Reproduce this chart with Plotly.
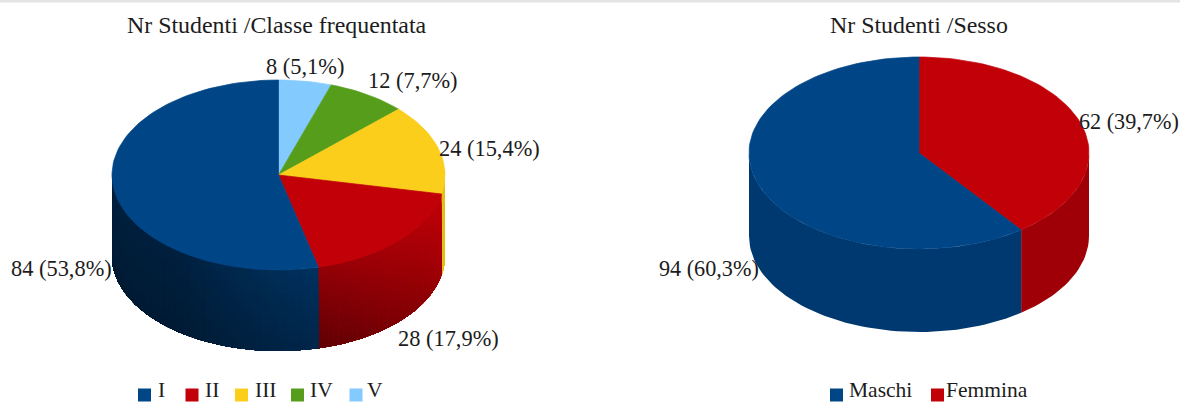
import math
import plotly.graph_objects as go

# Student counts by class attended and by sex
class_names = ["V", "IV", "III", "II", "I"]
class_counts = [8, 12, 24, 28, 84]
class_labels = ["8 (5,1%)", "12 (7,7%)", "24 (15,4%)", "28 (17,9%)", "84 (53,8%)"]
sex_names = ["Femmina", "Maschi"]
sex_counts = [62, 94]
sex_labels = ["62 (39,7%)", "94 (60,3%)"]

BLUE, RED, YELLOW, GREEN, SKY = "#004586", "#c20008", "#fbce1c", "#579d1c", "#83caff"
SERIF = "Liberation Serif"
INK = "#1c1c1c"


def shade(hex_colour, factor):
    r, g, b = (int(hex_colour[i:i + 2], 16) for i in (1, 3, 5))
    return f"rgb({r * factor:.0f},{g * factor:.0f},{b * factor:.0f})"


def polygon(fig, xs, ys, colour, outline=0.7):
    fig.add_trace(go.Scatter(
        x=xs, y=ys, mode="lines", fill="toself", fillcolor=colour,
        line=dict(color=colour, width=outline), hoverinfo="skip", showlegend=False,
    ))


def draw_pie(fig, counts, colours, cx, cy, a, b, depth, side_shade, strips_per_slice, levels):
    total = sum(counts)

    def rim(t):
        r = math.radians(t)
        return cx + a * math.sin(r), cy - b * math.cos(r)

    start = 0.0
    spans = []
    for n in counts:
        end = start + 360.0 * n / total
        spans.append((start, end))
        start = end

    # Wall of the cylinder, only the front half is visible.  Every band also
    # covers everything after it, and the next bands paint over that, so no
    # hairline gaps open between neighbouring bands.
    for (s, e), colour in zip(spans, colours):
        lo, hi = max(s, 90.0), min(e, 270.0)
        if hi <= lo:
            continue
        for i in range(strips_per_slice):
            t1 = lo + (hi - lo) * i / strips_per_slice
            steps = max(2, int((hi - t1) / 2))
            arc = [rim(t1 + (hi - t1) * j / steps) for j in range(steps + 1)]
            for k in range(levels):
                d1 = depth * k / levels
                u = (i + 0.5) / strips_per_slice
                v = (k + 0.5) / levels
                xs = [p[0] for p in arc] + [p[0] for p in reversed(arc)]
                ys = [p[1] + d1 for p in arc] + [p[1] + depth for p in reversed(arc)]
                xs.append(xs[0])
                ys.append(ys[0])
                polygon(fig, xs, ys, shade(colour, side_shade(colour, u, v)), outline=0)

    # Top face
    for (s, e), colour in zip(spans, colours):
        steps = max(4, int((e - s) / 2))
        pts = [rim(s + (e - s) * j / steps) for j in range(steps + 1)]
        xs = [cx] + [p[0] for p in pts] + [cx]
        ys = [cy] + [p[1] for p in pts] + [cy]
        polygon(fig, xs, ys, colour)


def class_wall(colour, u, v):
    if colour == RED:
        # brightest at the top right, falling towards the bottom left
        top = 1.0 - 0.25 * u
        bottom = 0.80 - 0.32 * u
        return top + (bottom - top) * v
    if colour == BLUE:
        w = min(u * 2.0, 1.0)
        near = 0.72 - 0.18 * v
        far = 0.46 - 0.08 * v
        return near + (far - near) * w
    return 0.92


def sex_wall(colour, u, v):
    return 0.82 if colour == RED else 0.83


fig = go.Figure()

# Thin grey band along the top edge
fig.add_shape(type="rect", x0=0, x1=1180, y0=0, y1=2.5,
              fillcolor="#e4e4e4", line_width=0, layer="below")

draw_pie(fig, class_counts, [SKY, GREEN, YELLOW, RED, BLUE],
         278.5, 175, 166.5, 95, 81, class_wall, 36, 10)
draw_pie(fig, sex_counts, [RED, BLUE], 919, 153, 170, 96, 83, sex_wall, 1, 1)


def note(text, x, y, size):
    fig.add_annotation(x=x - 2, y=y, text=text, showarrow=False, xanchor="left",
                       yanchor="middle", xref="x", yref="y",
                       font=dict(family=SERIF, size=size, color=INK))


note("Nr Studenti /Classe frequentata", 127, 25, 23.9)
note("Nr Studenti /Sesso", 830, 25, 23.9)

for text, pos in zip(class_labels, [(266, 66), (368, 80), (439, 148), (398, 338), (11, 268)]):
    note(text, *pos, 22.4)
for text, pos in zip(sex_labels, [(1079, 121), (659, 268)]):
    note(text, *pos, 22.2)

# Legend keys and their names
legend_order = [
    ("I", BLUE, 144.5, 158), ("II", RED, 192, 205), ("III", YELLOW, 241.5, 255),
    ("IV", GREEN, 297.5, 310), ("V", SKY, 356, 367),
    ("Maschi", BLUE, 836.5, 849), ("Femmina", RED, 937.5, 946),
]
for name, colour, key_x, text_x in legend_order:
    fig.add_trace(go.Scatter(
        x=[key_x], y=[395], mode="markers", hoverinfo="skip", showlegend=False,
        marker=dict(symbol="square", size=13, color=colour, line_width=0),
    ))
    note(name, text_x, 389.5, 21.5)

fig.update_layout(
    width=1180, height=403, autosize=False,
    margin=dict(l=0, r=0, t=0, b=0),
    paper_bgcolor="white", plot_bgcolor="white",
    xaxis=dict(range=[0, 1180], visible=False, fixedrange=True),
    yaxis=dict(range=[403, 0], visible=False, fixedrange=True),
)

fig.write_html("out.html")
